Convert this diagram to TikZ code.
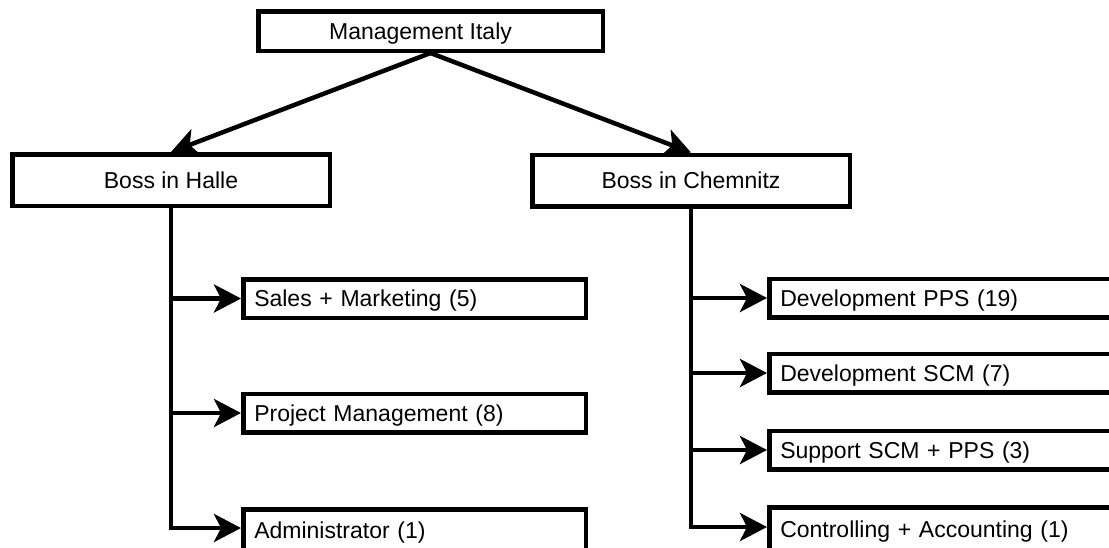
\documentclass[tikz,border=0pt]{standalone}
\usepackage{fontspec}
\setmainfont{Liberation Sans}
\usetikzlibrary{arrows.meta}
\begin{document}
\begin{tikzpicture}[x=1pt,y=-1pt,
  box/.style={draw, line width=4.5pt, inner sep=0pt,
              font=\fontsize{23}{27}\selectfont, text height=16.5pt, text depth=0pt},
  boss/.style={box, minimum width=317.5pt, minimum height=51.5pt},
  unit/.style={box, anchor=west, minimum height=38.5pt, text width=320.5pt,
               inner xsep=11pt, align=left},
  lastunit/.style={unit, anchor=north west, minimum height=50pt},
  link/.style={line width=4.5pt, -{Stealth[length=27pt,width=28pt,inset=7pt]}}
]
\useasboundingbox (0,0) rectangle (1109,547);
\clip (0,0) rectangle (1109,547);

% top level
\node[box, minimum width=344.5pt, minimum height=39.5pt] (mg) at (430.5,31)
  {\hspace*{-20pt}Management Italy};

% site heads
\node[boss] (hb) at (171,180) {Boss in Halle};
\node[boss] (cb) at (691,180.5) {Boss in Chemnitz};

% Halle departments
\node[unit] (sm) at (241,298.5) {Sales + Marketing (5)};
\node[unit] (pm) at (241,413) {Project Management (8)};
\node[lastunit] (ad) at (241,507) {\raisebox{4.5pt}[16.5pt][0pt]{Administrator (1)}};

% Chemnitz departments
\node[unit] (dp) at (767,298) {Development PPS (19)};
\node[unit] (ds) at (767,373) {Development SCM (7)};
\node[unit] (ss) at (767,450) {Support SCM + PPS (3)};
\node[lastunit] (ca) at (767,505) {\raisebox{3pt}[16.5pt][0pt]{Controlling + Accounting (1)}};

% arrow rows of the two bottom boxes
\coordinate (adin) at ([yshift=-21pt]ad.north west);
\coordinate (cain) at ([yshift=-22pt]ca.north west);

% reporting lines
\draw[link] (mg.south) -- (hb.north);
\draw[link] (mg.south) -- (cb.north);

\draw[link] (hb.south) |- (adin);
\draw[link] (hb.south |- sm.west) -- (sm.west);
\draw[link] (hb.south |- pm.west) -- (pm.west);

\draw[link] (cb.south) |- (cain);
\draw[link] (cb.south |- dp.west) -- (dp.west);
\draw[link] (cb.south |- ds.west) -- (ds.west);
\draw[link] (cb.south |- ss.west) -- (ss.west);
\end{tikzpicture}
\end{document}
